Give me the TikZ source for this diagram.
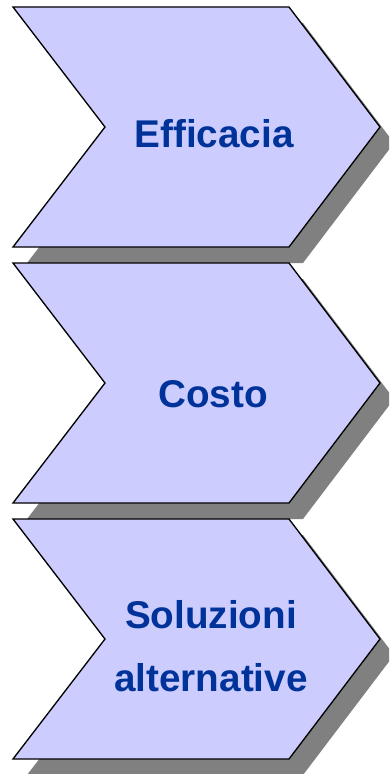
\documentclass[tikz,border=0pt]{standalone}
\usepackage{fontspec}
\setmainfont{Liberation Sans}
\usepackage{xcolor}
\usepackage{tikz}
\definecolor{chevfill}{HTML}{CCCCFF}
\definecolor{chevtext}{HTML}{003399}
\tikzset{chev/.style={fill=chevfill,draw=black,line width=1pt,line join=miter},
         chev drop/.style={fill=gray,draw=none},
         chev label/.style={text=chevtext,font=\fontsize{29}{47}\selectfont\bfseries,align=center,anchor=base,inner sep=0pt},}

\begin{document}
\begin{tikzpicture}[x=0.75pt,y=-0.75pt]
    \useasboundingbox (0,0) rectangle (389,774);
    \clip (0,0) rectangle (389,774);

	\begin{scope}[shift={(0,7)}]
    \fill[chev drop] (27,16) -- (303,16) -- (394,136) -- (303,256) -- (27,256) -- (119,136) -- cycle;
    \draw[chev] (13,0) -- (289,0) -- (380,120) -- (289,240) -- (13,240) -- (105,120) -- cycle;
    \node[chev label] (eff) at (214,140) {Efficacia};
    \end{scope}

	\begin{scope}[shift={(0,263)}]
    \fill[chev drop] (27,16) -- (303,16) -- (394,136) -- (303,256) -- (27,256) -- (119,136) -- cycle;
    \draw[chev] (13,0) -- (289,0) -- (380,120) -- (289,240) -- (13,240) -- (105,120) -- cycle;
    \node[chev label] (cost) at (213,144) {Costo};
    \end{scope}

	\begin{scope}[shift={(0,519)}]
    \fill[chev drop] (27,16) -- (303,16) -- (394,136) -- (303,256) -- (27,256) -- (119,136) -- cycle;
    \draw[chev] (13,0) -- (289,0) -- (380,120) -- (289,240) -- (13,240) -- (105,120) -- cycle;
    \node[chev label] (alt) at (211,172) {Soluzioni\\alternative};
    \end{scope}

\end{tikzpicture}
\end{document}
